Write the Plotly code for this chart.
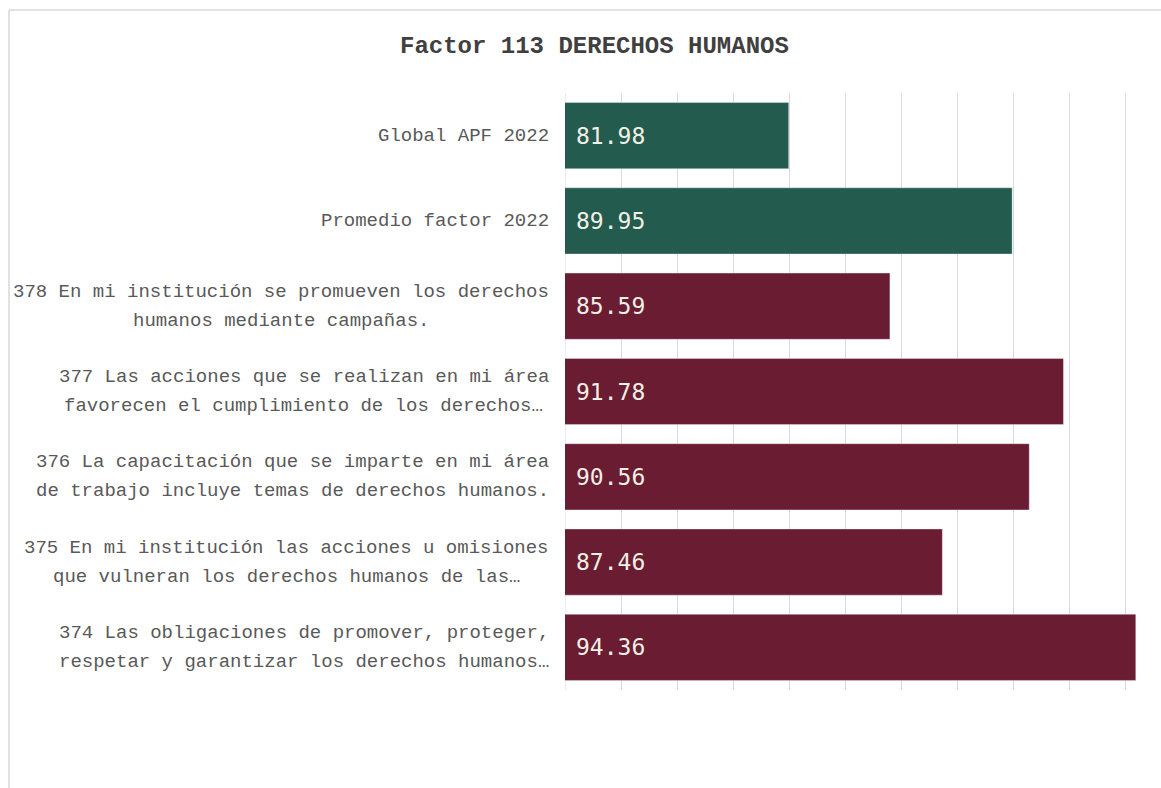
import plotly.graph_objects as go

# Survey items of factor 113, listed top to bottom
categories = [
    "Global APF 2022",
    "Promedio factor 2022",
    "378 En mi institución se promueven los derechos\nhumanos mediante campañas.",
    "377 Las acciones que se realizan en mi área\nfavorecen el cumplimiento de los derechos…",
    "376 La capacitación que se imparte en mi área\nde trabajo incluye temas de derechos humanos.",
    "375 En mi institución las acciones u omisiones\nque vulneran los derechos humanos de las…",
    "374 Las obligaciones de promover, proteger,\nrespetar y garantizar los derechos humanos…",
]
scores = [81.98, 89.95, 85.59, 91.78, 90.56, 87.46, 94.36]
groups = ["ref", "ref", "item", "item", "item", "item", "item"]

GREEN = "#235B4E"
MAROON = "#691C32"
group_color = {"ref": GREEN, "item": MAROON}

W, H = 1161, 788
M_L, M_R, M_T, M_B = 565, 0, 93, 98
X_MIN, X_MAX = 74, 95.26

LABEL_FONT = "Liberation Mono"
LABEL_SIZE = 19
LABEL_COLOR = "#595959"

fig = go.Figure(
    go.Bar(
        x=scores,
        y=categories,
        orientation="h",
        width=0.776,
        marker=dict(
            color=[group_color[g] for g in groups],
            line=dict(color="rgba(255,255,255,0.35)", width=1),
        ),
        hoverinfo="skip",
    )
)

annotations = []
plot_w = W - M_L - M_R
plot_h = H - M_T - M_B
block_right = 549
char_w = 0.6 * LABEL_SIZE
line_gap = 29

for cat, val in zip(categories, scores):
    lines = cat.split("\n")
    width_px = max(len(s) for s in lines) * char_w
    cx = block_right - width_px / 2
    n = len(lines)
    for i, line in enumerate(lines):
        shift = ((n - 1) / 2 - i) * line_gap
        annotations.append(dict(
            x=(cx - M_L) / plot_w, xref="paper",
            y=cat, yref="y",
            text=line, showarrow=False,
            xanchor="center", yanchor="middle",
            yshift=shift,
            font=dict(family=LABEL_FONT, size=LABEL_SIZE, color=LABEL_COLOR),
        ))
    # value label inside the bar, near its start
    annotations.append(dict(
        x=X_MIN, xref="x", y=cat, yref="y",
        text=f"{val:.2f}", showarrow=False,
        xanchor="left", yanchor="middle", xshift=9,
        font=dict(family="DejaVu Sans Mono", size=23, color="#F2EFE4"),
    ))

annotations.append(dict(
    x=(594.5 - M_L) / plot_w, xref="paper",
    y=1 + (M_T - 47) / plot_h, yref="paper",
    text="<b>Factor 113 DERECHOS HUMANOS</b>", showarrow=False,
    xanchor="center", yanchor="middle",
    font=dict(family="Liberation Mono", size=24, color="#404040"),
))

# light frame around the chart area (top and left edges)
fx = (9 - M_L) / plot_w
fy = (H - M_B - 10) / plot_h
shapes = [
    dict(type="line", xref="paper", yref="paper", x0=fx, x1=fx, y0=-0.3, y1=fy,
         line=dict(color="#D9D9D9", width=1.5)),
    dict(type="line", xref="paper", yref="paper", x0=fx, x1=1.1, y0=fy, y1=fy,
         line=dict(color="#D9D9D9", width=1.5)),
    # gridline on the axis minimum
    dict(type="line", xref="x", yref="paper", x0=X_MIN, x1=X_MIN, y0=0, y1=1,
         line=dict(color="#D9D9D9", width=1), layer="below"),
]

fig.update_layout(
    width=W, height=H,
    margin=dict(l=M_L, r=M_R, t=M_T, b=M_B),
    paper_bgcolor="white", plot_bgcolor="white",
    showlegend=False,
    xaxis=dict(
        range=[X_MIN, X_MAX],
        tick0=X_MIN, dtick=2,
        showgrid=True, gridcolor="#D9D9D9", gridwidth=1,
        showticklabels=False, zeroline=False, showline=False, ticks="",
    ),
    yaxis=dict(
        categoryorder="array", categoryarray=categories,
        range=[len(categories) - 0.5, -0.5],
        showticklabels=False, showgrid=False, zeroline=False, showline=False,
    ),
    annotations=annotations,
    shapes=shapes,
)

fig.write_html("out.html")
